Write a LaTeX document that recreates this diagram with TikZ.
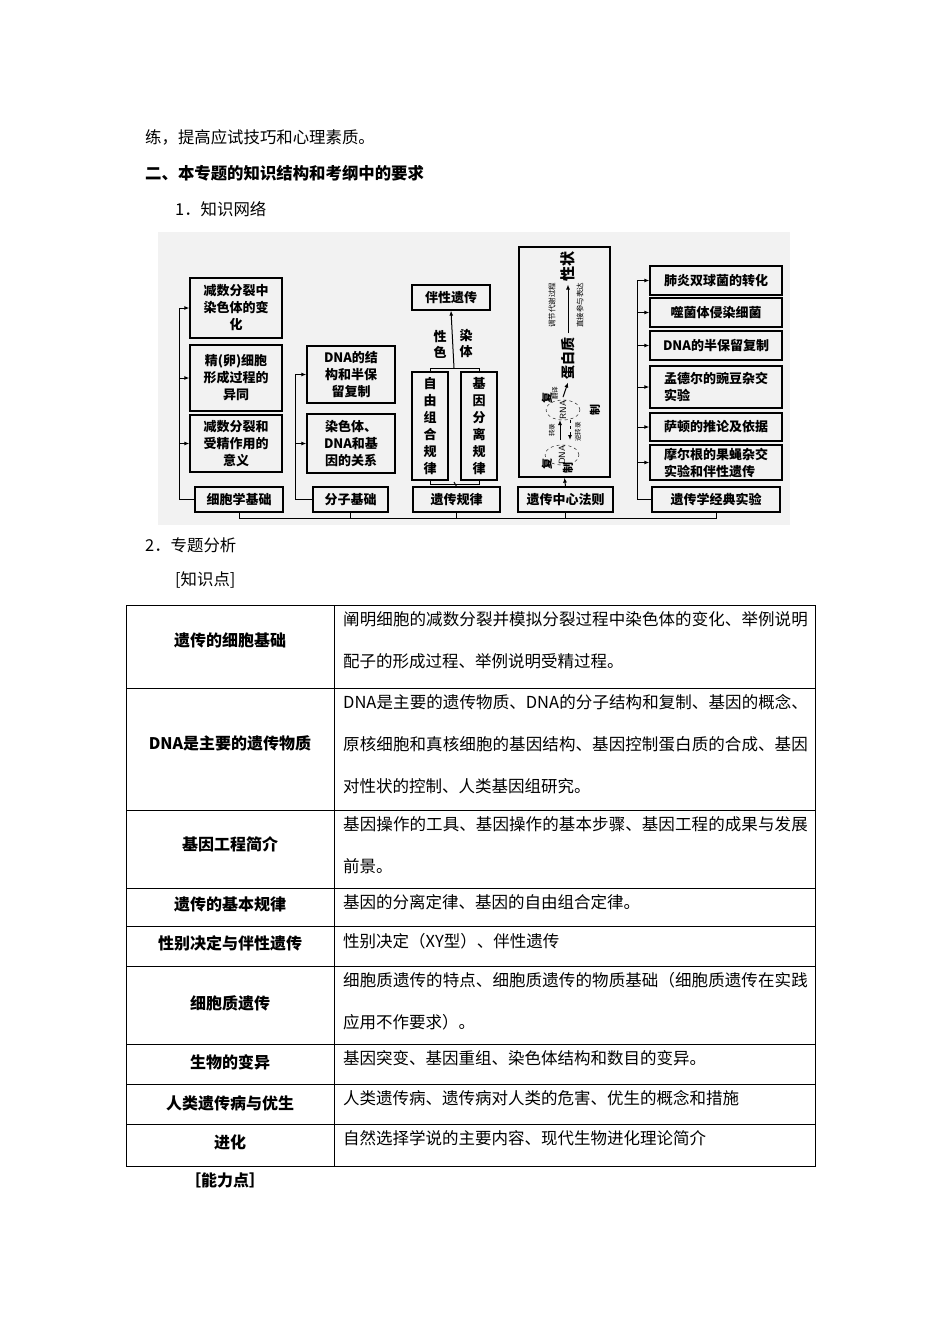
\documentclass[tikz,border=0pt]{standalone}
\usepackage{fontspec}
\setmainfont{Liberation Serif}
\newfontfamily\cjk{Noto Sans CJK SC}
\XeTeXlinebreaklocale "zh"
\XeTeXlinebreakskip=0pt plus 1pt
\usetikzlibrary{arrows.meta}
\begin{document}
\begin{tikzpicture}[x=1pt,y=-1pt,
  every node/.style={font=\cjk\fontsize{14}{17}\selectfont},
  bx/.style={draw,line width=1.3pt,align=center,inner sep=0pt,font=\cjk\bfseries\fontsize{13}{17}\selectfont},
  ln/.style={line width=1pt},
  ar/.style={line width=1pt,-{Latex[length=5pt,width=4pt]}},
  txt/.style={anchor=west,inner sep=0pt,font=\cjk\fontsize{16.4}{17}\selectfont},
  lc/.style={font=\cjk\bfseries\fontsize{16}{17}\selectfont,inner sep=0pt},
  rc/.style={anchor=north west,inner sep=0pt,align=left,text width=468pt,font=\cjk\fontsize{16.5}{42}\selectfont}]
\useasboundingbox (0,0) rectangle (950,1344);
\fill[white] (0,0) rectangle (950,1344);
\node[txt] (l1) at (145,137) {练，提高应试技巧和心理素质。};
\node[txt,font=\cjk\bfseries\fontsize{16.4}{17}\selectfont] (l2) at (145,173) {二、本专题的知识结构和考纲中的要求};
\node[txt] (l3) at (175,209) {1．知识网络};
% diagram
\fill[black!5] (158,232) rectangle (790,525);
\node[bx,minimum width=92pt,minimum height=60pt] (a1) at (236,308) {减数分裂中\\染色体的变\\化};
\node[bx,minimum width=92pt,minimum height=66pt] (a2) at (236,378) {精(卵)细胞\\形成过程的\\异同};
\node[bx,minimum width=92pt,minimum height=57pt] (a3) at (236,443.5) {减数分裂和\\受精作用的\\意义};
\node[bx,minimum width=88pt,minimum height=25pt] (a4) at (239,499.5) {细胞学基础};
\node[bx,minimum width=88pt,minimum height=57pt] (b1) at (351,374.5) {DNA的结\\构和半保\\留复制};
\node[bx,minimum width=88pt,minimum height=59pt] (b2) at (351,443.5) {染色体、\\DNA和基\\因的关系};
\node[bx,minimum width=75pt,minimum height=25pt] (b3) at (350.5,499.5) {分子基础};
\node[bx,minimum width=78pt,minimum height=25pt] (c1) at (451,297.5) {伴性遗传};
\node[bx,minimum width=36pt,minimum height=108pt] (c2) at (430,426) {自\\由\\组\\合\\规\\律};
\node[bx,minimum width=36pt,minimum height=108pt] (c3) at (479,426) {基\\因\\分\\离\\规\\律};
\node[bx,minimum width=87pt,minimum height=25pt] (c4) at (456.5,499.5) {遗传规律};
\node[font=\cjk\bfseries\fontsize{13}{16}\selectfont,align=center] (cl1) at (440,344) {性\\色};
\node[font=\cjk\bfseries\fontsize{13}{16}\selectfont,align=center] (cl2) at (466,344) {染\\体};
\node[bx,minimum width=91pt,minimum height=230pt] (d1) at (564.5,362) {};
\node[bx,minimum width=95pt,minimum height=25pt] (d2) at (565.5,499.5) {遗传中心法则};
\node[bx,minimum width=132pt,minimum height=29pt] (e1) at (716,280.5) {肺炎双球菌的转化};
\node[bx,minimum width=132pt,minimum height=29pt] (e2) at (716,312.5) {噬菌体侵染细菌};
\node[bx,minimum width=132pt,minimum height=29pt] (e3) at (716,345.5) {DNA的半保留复制};
\node[bx,minimum width=132pt,minimum height=42pt,align=left] (e4) at (716,387) {孟德尔的豌豆杂交\\实验};
\node[bx,minimum width=132pt,minimum height=28pt] (e5) at (716,427) {萨顿的推论及依据};
\node[bx,minimum width=132pt,minimum height=35pt,align=left] (e6) at (716,462.5) {摩尔根的果蝇杂交\\实验和伴性遗传};
\node[bx,minimum width=128pt,minimum height=25pt] (e7) at (716,499.5) {遗传学经典实验};
% connectors
\coordinate (ka) at (179,499.5);
\draw[ln] (a4.west) -- (ka) -- (179,308);
\foreach \n in {a1,a2,a3} \draw[ar] (179,0 |- \n.west) -- (\n.west);
\draw[ln] (b3.west) -- (295,499.5) -- (295,374.5);
\foreach \n in {b1,b2} \draw[ar] (295,0 |- \n.west) -- (\n.west);
\draw[ln] (e7.west) -- (637,499.5) -- (637,280.5);
\foreach \n in {e1,e2,e3,e4,e5,e6} \draw[ar] (637,0 |- \n.west) -- (\n.west);
\draw[ln] (c4.north) -- (454,482);
\draw[ln] (c2.south) -- (430,484) -- (479,484) -- (c3.south);
\draw[ln] (c2.north) -- (430,368) -- (479,368) -- (c3.north);
\draw[ar] (454,368) -- (c1.south);
\draw[ar] (d2.north) -- (d1.south);
\draw[ln] (a4.south) -- (239,518) -- (716,518) -- (e7.south);
\draw[ln] (b3.south) -- (350.5,518);
\draw[ln] (c4.south) -- (456.5,518);
\draw[ln] (d2.south) -- (565.5,518);
% central dogma content
\node[rotate=90,font=\cjk\bfseries\fontsize{15}{16}\selectfont] (t1) at (568,266) {性状};
\node[rotate=90,font=\cjk\bfseries\fontsize{14}{16}\selectfont] (t2) at (568,358) {蛋白质};
\draw[ar] (t2.east) -- (t1.west);
\node[rotate=90,font=\cjk\fontsize{7.5}{9}\selectfont] (t3) at (552,305) {调节代谢过程};
\node[rotate=90,font=\cjk\fontsize{7.5}{9}\selectfont] (t4) at (580,305) {直接参与表达};
\node[rotate=90,font=\sffamily\fontsize{9}{10}\selectfont] (t5) at (563,410) {RNA};
\node[rotate=90,font=\sffamily\fontsize{9}{10}\selectfont] (t6) at (562,455) {DNA};
\draw[dashed] (t5) ellipse (17pt and 10pt);
\draw[dashed] (t6) ellipse (17pt and 10pt);
\draw[ar] (t5.east) -- (t2.west);
\node[rotate=90,font=\cjk\fontsize{6.5}{8}\selectfont] (t7) at (555,393) {翻译};
\draw[ar] (560,440) -- (560,420);
\draw[ar,dashed] (570,420) -- (570,440);
\node[rotate=90,font=\cjk\fontsize{6.5}{8}\selectfont] (t8) at (552,430) {转录};
\node[rotate=90,font=\cjk\fontsize{6.5}{8}\selectfont] (t9) at (578,432) {逆转录};
\node[rotate=90,font=\cjk\bfseries\fontsize{11}{12}\selectfont] (t10) at (547,398) {复};
\node[rotate=90,font=\cjk\bfseries\fontsize{11}{12}\selectfont] (t11) at (595,410) {制};
\node[rotate=90,font=\cjk\bfseries\fontsize{11}{12}\selectfont] (t12) at (547,464) {复};
\node[rotate=90,font=\cjk\bfseries\fontsize{11}{12}\selectfont] (t13) at (568,468) {制};
% section 2
\node[txt] (l4) at (145,545) {2．专题分析};
\node[txt] (l5) at (175,580) {[知识点]};
% table
\draw[line width=0.6pt] (126,605) rectangle (815,1166);
\draw[line width=0.6pt] (334,605) -- (334,1166);
\foreach \y in {688,810,888,926,966,1044,1084,1124} \draw[line width=0.6pt] (126,\y) -- (815,\y);
\node[lc] (r1) at (230,640) {遗传的细胞基础};
\node[lc] (r2) at (230,743) {DNA是主要的遗传物质};
\node[lc] (r3) at (230,844) {基因工程简介};
\node[lc] (r4) at (230,904) {遗传的基本规律};
\node[lc] (r5) at (230,943) {性别决定与伴性遗传};
\node[lc] (r6) at (230,1003) {细胞质遗传};
\node[lc] (r7) at (230,1062) {生物的变异};
\node[lc] (r8) at (230,1103) {人类遗传病与优生};
\node[lc] (r9) at (230,1142) {进化};
\node[rc] (s1) at (343,611) {阐明细胞的减数分裂并模拟分裂过程中染色体的变化、举例说明配子的形成过程、举例说明受精过程。};
\node[rc] (s2) at (343,694) {DNA是主要的遗传物质、DNA的分子结构和复制、基因的概念、原核细胞和真核细胞的基因结构、基因控制蛋白质的合成、基因对性状的控制、人类基因组研究。};
\node[rc] (s3) at (343,816) {基因操作的工具、基因操作的基本步骤、基因工程的成果与发展前景。};
\node[rc] (s4) at (343,894) {基因的分离定律、基因的自由组合定律。};
\node[rc] (s5) at (343,933) {性别决定（XY型）、伴性遗传};
\node[rc] (s6) at (343,972) {细胞质遗传的特点、细胞质遗传的物质基础（细胞质遗传在实践应用不作要求）。};
\node[rc] (s7) at (343,1050) {基因突变、基因重组、染色体结构和数目的变异。};
\node[rc] (s8) at (343,1090) {人类遗传病、遗传病对人类的危害、优生的概念和措施};
\node[rc] (s9) at (343,1130) {自然选择学说的主要内容、现代生物进化理论简介};
\node[txt,font=\cjk\bfseries\fontsize{16}{17}\selectfont] (l6) at (185,1180) {［能力点］};
\end{tikzpicture}
\end{document}
